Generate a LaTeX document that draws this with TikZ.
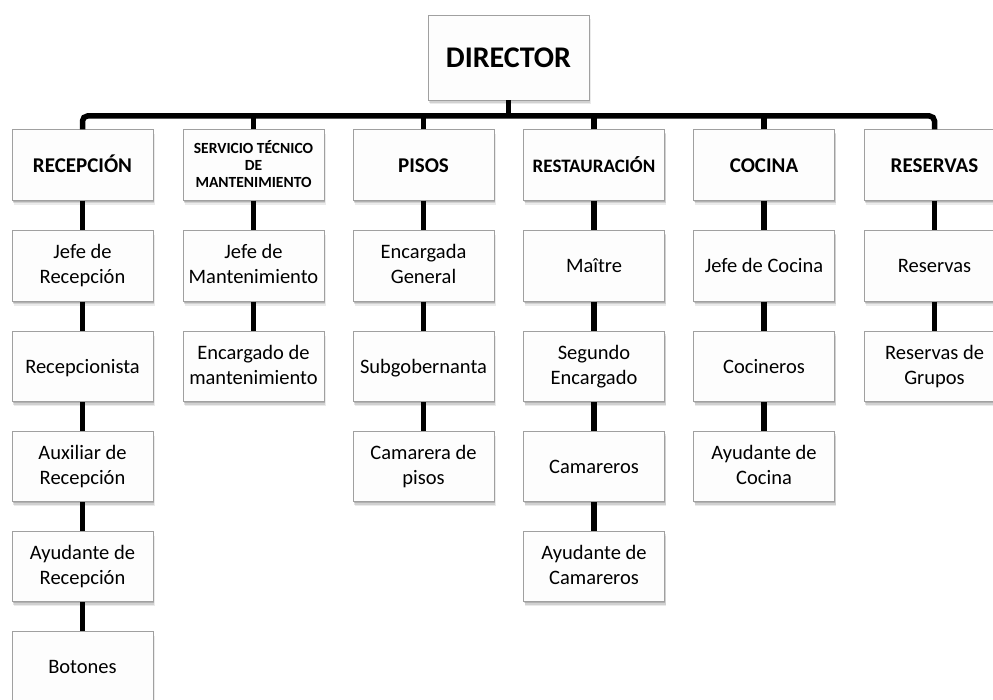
\documentclass[tikz,border=0pt]{standalone}
\usepackage{fontspec}
\setmainfont{Carlito}
\usetikzlibrary{shadows}
\definecolor{boxline}{HTML}{A0A0A0}
\definecolor{boxfill}{HTML}{FDFDFD}
\newcommand{\subfont}{\fontsize{20.5}{25}\selectfont}
\newcommand{\topstrut}{\vphantom{Ó}}
\newcommand{\botstrut}{\vphantom{g}}
\begin{document}
\begin{tikzpicture}[x=1pt,y=-1pt,
  box/.style={draw=boxline, line width=0.9pt, fill=boxfill, minimum width=141pt,
    minimum height=70.5pt, inner sep=2pt, align=center,
    execute at begin node=\topstrut, execute at end node=\botstrut,
    drop shadow={shadow xshift=0.5pt, shadow yshift=-1.5pt, opacity=0.15, fill=black},
    drop shadow={shadow xshift=1pt, shadow yshift=-3pt, opacity=0.11, fill=black},
    drop shadow={shadow xshift=1.5pt, shadow yshift=-4.5pt, opacity=0.08, fill=black}},
  dept/.style={box, font=\bfseries\fontsize{21}{24}\selectfont},
  sub/.style={box, font=\subfont},
  conn/.style={line width=5.5pt, black}]
\useasboundingbox (0,0) rectangle (993,700);
% director
\node[box, minimum width=161pt, minimum height=85pt, font=\bfseries\fontsize{30}{34}\selectfont] (dir) at (508.5,57.5) {DIRECTOR};
% departments
\node[dept] (d1) at (82.5,165) {RECEPCIÓN};
\node[dept, font=\bfseries\fontsize{15.5}{17}\selectfont] (d2) at (253.5,165) {SERVICIO TÉCNICO\\DE\\MANTENIMIENTO};
\node[dept] (d3) at (423.5,165) {PISOS};
\node[dept, font=\bfseries\fontsize{19}{22}\selectfont, execute at begin node={\rule{0pt}{18.5pt}}] (d4) at (594,165) {RESTAURACIÓN};
\node[dept] (d5) at (764,165) {COCINA};
\node[dept] (d6) at (934.5,165) {RESERVAS};
% recepcion
\node[sub] (a1) at (82.5,266) {Jefe de\\Recepción};
\node[sub] (a2) at (82.5,366.5) {Recepcionista};
\node[sub] (a3) at (82.5,466.5) {Auxiliar de\\Recepción};
\node[sub] (a4) at (82.5,566.5) {Ayudante de\\Recepción};
\node[sub] (a5) at (82.5,666.5) {Botones};
% mantenimiento
\node[sub] (b1) at (253.5,266) {Jefe de\\Mantenimiento};
\node[sub] (b2) at (253.5,366.5) {Encargado de\\mantenimiento};
% pisos
\node[sub] (c1) at (423.5,266) {Encargada\\General};
\node[sub] (c2) at (423.5,366.5) {Subgobernanta};
\node[sub] (c3) at (423.5,466.5) {Camarera de\\pisos};
% restauracion
\node[sub] (e1) at (594,266) {Maître};
\node[sub] (e2) at (594,366.5) {Segundo\\Encargado};
\node[sub] (e3) at (594,466.5) {Camareros};
\node[sub] (e4) at (594,566.5) {Ayudante de\\Camareros};
% cocina
\node[sub] (f1) at (764,266) {Jefe de Cocina};
\node[sub] (f2) at (764,366.5) {Cocineros};
\node[sub] (f3) at (764,466.5) {Ayudante de\\Cocina};
% reservas
\node[sub] (g1) at (934.5,266) {Reservas};
\node[sub] (g2) at (934.5,366.5) {Reservas de\\Grupos};
% connectors
\coordinate (bar) at (508.5,116);
\draw[conn] (dir.south) -- (dir.south |- bar);
\draw[conn, rounded corners=5pt] (d1.north) -- (d1.north |- bar) -- (d6.north |- bar) -- (d6.north);
\foreach \d in {d2,d3,d4,d5} \draw[conn] (\d.north) -- (\d.north |- bar);
\draw[conn] (d1) -- (a1); \draw[conn] (a1) -- (a2); \draw[conn] (a2) -- (a3); \draw[conn] (a3) -- (a4); \draw[conn] (a4) -- (a5);
\draw[conn] (d2) -- (b1); \draw[conn] (b1) -- (b2);
\draw[conn] (d3) -- (c1); \draw[conn] (c1) -- (c2); \draw[conn] (c2) -- (c3);
\draw[conn] (d4) -- (e1); \draw[conn] (e1) -- (e2); \draw[conn] (e2) -- (e3); \draw[conn] (e3) -- (e4);
\draw[conn] (d5) -- (f1); \draw[conn] (f1) -- (f2); \draw[conn] (f2) -- (f3);
\draw[conn] (d6) -- (g1); \draw[conn] (g1) -- (g2);
\end{tikzpicture}
\end{document}
